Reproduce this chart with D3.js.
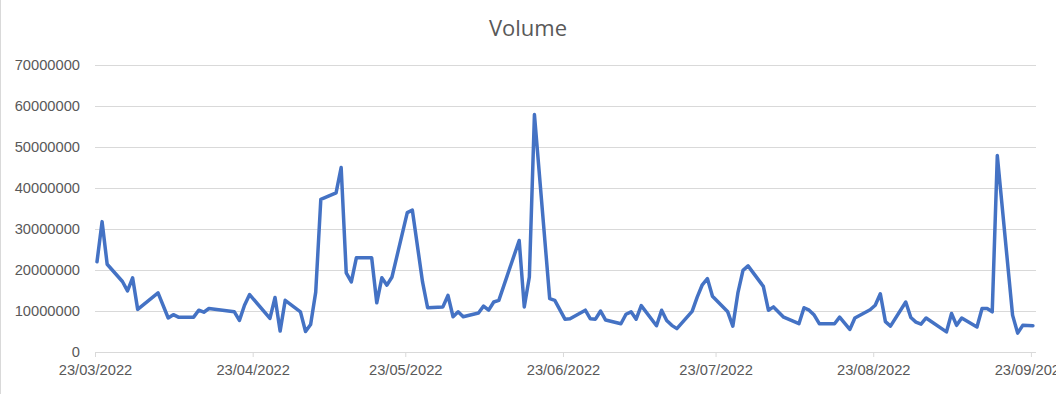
<!DOCTYPE html>
<html>
<head>
<meta charset="utf-8">
<script src="https://cdn.jsdelivr.net/npm/d3@7"></script>
<style>
  body { margin: 0; background: #fff; }
  svg { display: block; font-family: "Open Sans", sans-serif; }
</style>
</head>
<body>
<script>
// trading days (dd/mm/yyyy)
const dates = [
  "23/03/2022", "24/03/2022", "25/03/2022", "28/03/2022", "29/03/2022", "30/03/2022", "31/03/2022",
  "04/04/2022", "06/04/2022", "07/04/2022", "08/04/2022", "11/04/2022", "12/04/2022", "13/04/2022",
  "14/04/2022", "19/04/2022", "20/04/2022", "21/04/2022", "22/04/2022", "26/04/2022", "27/04/2022",
  "28/04/2022", "29/04/2022", "02/05/2022", "03/05/2022", "04/05/2022", "05/05/2022", "06/05/2022",
  "09/05/2022", "10/05/2022", "11/05/2022", "12/05/2022", "13/05/2022", "16/05/2022", "17/05/2022",
  "18/05/2022", "19/05/2022", "20/05/2022", "23/05/2022", "24/05/2022", "26/05/2022", "27/05/2022",
  "30/05/2022", "31/05/2022", "01/06/2022", "02/06/2022", "03/06/2022", "06/06/2022", "07/06/2022",
  "08/06/2022", "09/06/2022", "10/06/2022", "14/06/2022", "15/06/2022", "16/06/2022", "17/06/2022",
  "20/06/2022", "21/06/2022", "23/06/2022", "24/06/2022", "27/06/2022", "28/06/2022", "29/06/2022",
  "30/06/2022", "01/07/2022", "04/07/2022", "05/07/2022", "06/07/2022", "07/07/2022", "08/07/2022",
  "11/07/2022", "12/07/2022", "13/07/2022", "14/07/2022", "15/07/2022", "18/07/2022", "19/07/2022",
  "20/07/2022", "21/07/2022", "22/07/2022", "25/07/2022", "26/07/2022", "27/07/2022", "28/07/2022",
  "29/07/2022", "01/08/2022", "02/08/2022", "03/08/2022", "05/08/2022", "08/08/2022", "09/08/2022",
  "10/08/2022", "11/08/2022", "12/08/2022", "15/08/2022", "16/08/2022", "18/08/2022", "19/08/2022",
  "22/08/2022", "23/08/2022", "24/08/2022", "25/08/2022", "26/08/2022", "29/08/2022", "30/08/2022",
  "31/08/2022", "01/09/2022", "02/09/2022", "06/09/2022", "07/09/2022", "08/09/2022", "09/09/2022",
  "12/09/2022", "13/09/2022", "14/09/2022", "15/09/2022", "16/09/2022", "19/09/2022", "20/09/2022",
  "21/09/2022", "23/09/2022"
];

const volumes = [
  22000000, 31800000, 21400000, 17200000, 14900000, 18100000, 10400000,
  14400000, 8300000, 9100000, 8500000, 8500000, 10200000, 9700000,
  10600000, 9800000, 7700000, 11400000, 14000000, 8200000, 13300000,
  5100000, 12600000, 9800000, 5000000, 6700000, 14600000, 37200000,
  38800000, 45000000, 19300000, 17100000, 23000000, 23000000, 12000000,
  18100000, 16300000, 18300000, 34000000, 34600000, 17100000, 10800000,
  11000000, 13800000, 8600000, 9800000, 8600000, 9500000, 11200000,
  10200000, 12200000, 12600000, 27200000, 11000000, 18300000, 57900000,
  13000000, 12600000, 8000000, 8100000, 10200000, 8100000, 8000000,
  10000000, 7800000, 6900000, 9200000, 9800000, 8000000, 11300000,
  6400000, 10200000, 7700000, 6500000, 5700000, 9900000, 13400000,
  16400000, 17900000, 13600000, 9800000, 6300000, 14400000, 19900000,
  21000000, 16000000, 10200000, 11000000, 8500000, 6900000, 10800000,
  10200000, 9000000, 6900000, 6900000, 8500000, 5500000, 8300000,
  10300000, 11400000, 14200000, 7400000, 6300000, 12200000, 8400000,
  7300000, 6800000, 8300000, 4900000, 9400000, 6500000, 8300000,
  6100000, 10600000, 10600000, 9800000, 47900000, 9000000, 4600000,
  6500000, 6400000
];

const yTicks = [0, 10000000, 20000000, 30000000, 40000000, 50000000, 60000000, 70000000];
const xTicks = ["23/03/2022", "23/04/2022", "23/05/2022", "23/06/2022", "23/07/2022", "23/08/2022", "23/09/2022"];
const axisEnd = "24/09/2022";

const w = 1056;
const h = 394;
const plotLeft = 95, plotRight = 1036, plotTop = 65, plotBottom = 352;

const parse = d3.timeParse("%d/%m/%Y");
const fmt = d3.timeFormat("%d/%m/%Y");

const data = dates.map((d, i) => ({ date: parse(d), value: volumes[i] }));

const svg = d3.select("body")
  .append("svg")
  .attr("width", w)
  .attr("height", h);

// chart area border (left edge visible)
svg.append("line")
  .attr("x1", 0.5).attr("x2", 0.5)
  .attr("y1", 0).attr("y2", h)
  .attr("stroke", "#d9d9d9");

const x = d3.scaleTime()
  .domain([parse(xTicks[0]), parse(axisEnd)])
  .range([plotLeft, plotRight]);

const y = d3.scaleLinear()
  .domain([0, 70000000])
  .range([plotBottom, plotTop]);

// gridlines + y labels
const yAxis = svg.append("g")
  .attr("transform", `translate(${plotLeft},0)`)
  .call(d3.axisLeft(y)
    .tickValues(yTicks)
    .tickSize(-(plotRight - plotLeft))
    .tickPadding(15)
    .tickFormat(d3.format("d")));
yAxis.select(".domain").remove();
yAxis.selectAll(".tick line").attr("stroke", "#d9d9d9");
yAxis.selectAll(".tick text")
  .attr("fill", "#595959")
  .style("font-size", "14.7px");

// x axis
const xAxis = svg.append("g")
  .attr("transform", `translate(0,${plotBottom})`)
  .call(d3.axisBottom(x)
    .tickValues(xTicks.map(parse))
    .tickSize(5)
    .tickPadding(8)
    .tickFormat(fmt));
xAxis.select(".domain")
  .attr("stroke", "#d9d9d9")
  .attr("d", `M${plotLeft},0.5H${plotRight}`);
xAxis.selectAll(".tick line").attr("stroke", "#d9d9d9");
xAxis.selectAll(".tick text")
  .attr("fill", "#595959")
  .style("font-size", "14.7px");

// the line (excel draws the points a hair right of the day tick)
const line = d3.line()
  .x(d => x(d.date))
  .y(d => y(d.value));

svg.append("path")
  .datum(data)
  .attr("transform", "translate(2,0)")
  .attr("fill", "none")
  .attr("stroke", "#4472C4")
  .attr("stroke-width", 3.5)
  .attr("stroke-linejoin", "round")
  .attr("stroke-linecap", "round")
  .attr("d", line);

// title
svg.append("text")
  .attr("x", w / 2)
  .attr("y", 36)
  .attr("text-anchor", "middle")
  .attr("fill", "#595959")
  .style("font-size", "22px")
  .text("Volume");
</script>
</body>
</html>
